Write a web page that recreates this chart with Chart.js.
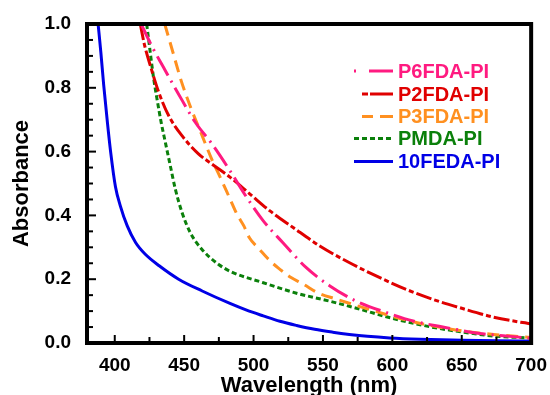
<!DOCTYPE html>
<html>
<head>
<meta charset="utf-8">
<script src="https://cdn.jsdelivr.net/npm/chart.js@4"></script>
<style>
  body { margin: 0; background: #fff; }
  canvas { display: block; }
</style>
</head>
<body>
<canvas id="chart" width="550" height="395"></canvas>
<script>
// series names, in legend order
const seriesNames = ['P6FDA-PI', 'P2FDA-PI', 'P3FDA-PI', 'PMDA-PI', '10FEDA-PI']

// wavelength (nm) / absorbance
const p6fdaX = [419, 427, 435, 446, 458, 470, 483, 495, 507, 521, 538, 555, 574, 596, 615, 639, 663, 687, 700]
const p6fdaY = [1.0, 0.928, 0.865, 0.78, 0.692, 0.624, 0.54, 0.457, 0.383, 0.315, 0.236, 0.179, 0.131, 0.095, 0.069, 0.048, 0.03, 0.02, 0.015]

const p2fdaX = [418.4, 421.5, 425.6, 431.6, 438.8, 448.4, 460.3, 470, 483, 497.4, 511.8, 528.5, 547.7, 566.8, 586, 610, 629, 650.6, 672, 694, 700]
const p2fdaY = [1.0, 0.933, 0.87, 0.787, 0.713, 0.65, 0.593, 0.561, 0.52, 0.467, 0.414, 0.362, 0.304, 0.257, 0.215, 0.168, 0.137, 0.108, 0.082, 0.064, 0.06]

const p3fdaX = [436, 442, 448, 455, 462, 470, 477, 483, 488, 493, 497, 504, 512, 519, 527, 536, 546, 560, 579, 595, 610, 625, 650, 675, 700]
const p3fdaY = [1.0, 0.91, 0.82, 0.735, 0.66, 0.575, 0.51, 0.452, 0.404, 0.367, 0.33, 0.295, 0.257, 0.231, 0.205, 0.184, 0.158, 0.137, 0.111, 0.09, 0.072, 0.057, 0.038, 0.026, 0.017]

const pmdaX = [423, 425.6, 428, 430.4, 433.5, 436.4, 440, 443.6, 448.4, 454.3, 462.7, 474.6, 484, 507, 531, 555, 579, 595, 605, 627, 651, 675, 700]
const pmdaY = [1.0, 0.91, 0.83, 0.766, 0.69, 0.63, 0.556, 0.483, 0.41, 0.347, 0.294, 0.247, 0.223, 0.189, 0.156, 0.131, 0.103, 0.083, 0.072, 0.051, 0.034, 0.021, 0.016]

const fedaX = [388, 390, 392, 394.5, 397, 400.5, 404, 409, 415, 422, 432, 446, 463, 483, 495, 507, 519, 531, 544, 557, 569, 582, 598, 620, 650, 675, 700]
const fedaY = [1.0, 0.91, 0.81, 0.70, 0.60, 0.49, 0.43, 0.367, 0.315, 0.278, 0.242, 0.20, 0.163, 0.124, 0.103, 0.085, 0.068, 0.055, 0.043, 0.034, 0.027, 0.021, 0.016, 0.012, 0.009, 0.007, 0.006]

const xTicks = [400, 450, 500, 550, 600, 650, 700]
const yTicks = [0.0, 0.2, 0.4, 0.6, 0.8, 1.0]

const colors = ['#ff1a80', '#e00000', '#ff9020', '#0b800b', '#0000e6']
const dashes = [[22, 6, 2, 6], [16, 3, 5, 3], [12, 7], [5, 3], []]

// legend swatches: where each sample line starts and its dash
const legendStart = [354, 362, 362, 354, 354]
const legendDashes = [[2, 13, 24], [6, 2, 23], [11, 7, 13], [5, 3], []]

const FONT = "'Liberation Sans', Arial, sans-serif"

function toPoints(xs, ys){
  return xs.map((x, i) => ({x: x, y: ys[i]}))
}

const seriesData = [
  toPoints(p6fdaX, p6fdaY),
  toPoints(p2fdaX, p2fdaY),
  toPoints(p3fdaX, p3fdaY),
  toPoints(pmdaX, pmdaY),
  toPoints(fedaX, fedaY),
]

// frame, inward ticks and the coloured legend
const framePlugin = {
  id: 'frame',
  afterDraw(chart){
    const {ctx, chartArea: {left, right, top, bottom}, scales: {x, y}} = chart
    ctx.save()
    ctx.strokeStyle = '#000'
    ctx.lineWidth = 2
    for(let v = 400; v < 700; v += 25){
      const px = x.getPixelForValue(v)
      const len = v % 50 === 0 ? 8 : 6
      ctx.beginPath()
      ctx.moveTo(px, bottom)
      ctx.lineTo(px, bottom - len)
      ctx.stroke()
    }
    for(let i = 1; i < 20; i++){
      const v = i * 0.05
      const py = y.getPixelForValue(v)
      const len = i % 4 === 0 ? 9 : 6
      ctx.beginPath()
      ctx.moveTo(left, py)
      ctx.lineTo(left + len, py)
      ctx.stroke()
    }
    ctx.lineWidth = 4
    ctx.strokeRect(left, top, right - left, bottom - top)

    // legend
    const rowY = [71, 94, 116.5, 138.5, 161.5]
    ctx.font = 'bold 20px ' + FONT
    ctx.textBaseline = 'middle'
    ctx.textAlign = 'left'
    seriesNames.forEach((name, i) => {
      ctx.strokeStyle = colors[i]
      ctx.lineWidth = 3
      ctx.setLineDash(legendDashes[i])
      ctx.beginPath()
      ctx.moveTo(legendStart[i], rowY[i])
      ctx.lineTo(393, rowY[i])
      ctx.stroke()
      ctx.setLineDash([])
      ctx.fillStyle = colors[i]
      ctx.fillText(name, 398, rowY[i] + 1)
    })
    ctx.restore()
  }
}

const config = {
  type: 'line',
  data: {
    datasets: seriesNames.map((name, i) => ({
      label: name,
      data: seriesData[i],
      borderColor: colors[i],
      backgroundColor: colors[i],
      borderWidth: 3,
      borderDash: dashes[i],
      pointRadius: 0,
      cubicInterpolationMode: 'monotone',
      fill: false,
    }))
  },
  options: {
    responsive: false,
    animation: false,
    devicePixelRatio: 1,
    layout: { padding: { top: 24, right: 17, left: 0, bottom: 0 } },
    plugins: {
      legend: { display: false },
      tooltip: { enabled: false },
    },
    scales: {
      x: {
        type: 'linear',
        min: 380,
        max: 700,
        afterFit(scale){ scale.height = 52 },
        afterBuildTicks(scale){ scale.ticks = xTicks.map(v => ({value: v})) },
        grid: { display: false },
        border: { display: false },
        ticks: {
          padding: 3,
          color: '#000',
          font: { family: FONT, size: 19, weight: 'bold' },
        },
        title: {
          display: true,
          text: 'Wavelength (nm)',
          color: '#000',
          padding: { top: 0, bottom: 0 },
          font: { family: FONT, size: 22, weight: 'bold', lineHeight: 0.8 },
        },
      },
      y: {
        type: 'linear',
        min: 0,
        max: 1,
        afterFit(scale){ scale.width = 87 },
        afterBuildTicks(scale){ scale.ticks = yTicks.map(v => ({value: v})) },
        grid: { display: false },
        border: { display: false },
        ticks: {
          padding: 8,
          color: '#000',
          font: { family: FONT, size: 19, weight: 'bold' },
          callback: v => v.toFixed(1),
        },
        title: {
          display: true,
          text: 'Absorbance',
          color: '#000',
          padding: { top: 11, bottom: 0 },
          font: { family: FONT, size: 22, weight: 'bold', lineHeight: 1 },
        },
      },
    },
  },
  plugins: [framePlugin],
}

new Chart(document.getElementById('chart'), config)
</script>
</body>
</html>
